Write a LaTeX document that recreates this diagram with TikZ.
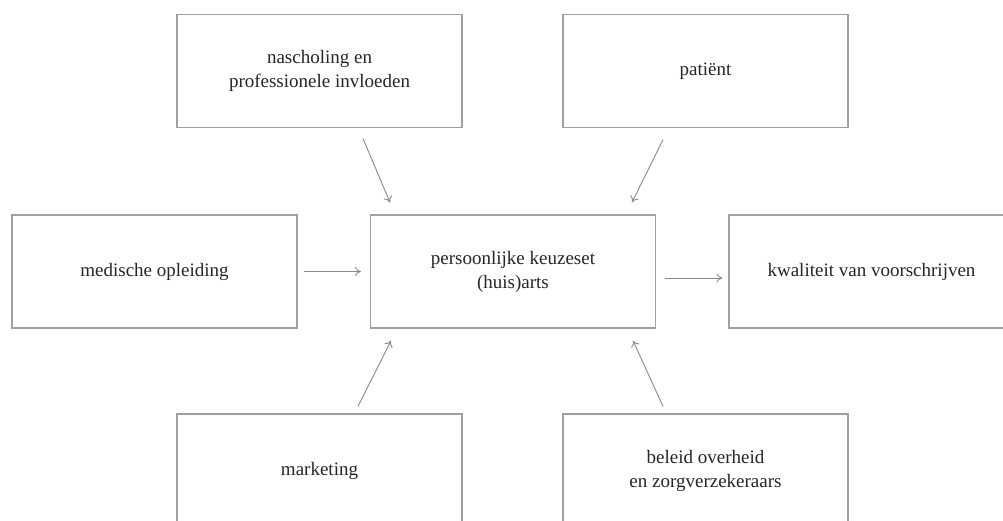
\documentclass[tikz,border=0pt]{standalone}
\usepackage{fontspec}
\setmainfont{Liberation Serif}
\usetikzlibrary{arrows.meta}
\definecolor{boxline}{HTML}{A0A0A0}
\definecolor{arrline}{HTML}{8A8A8A}
\definecolor{txt}{HTML}{262626}
\begin{document}
\begin{tikzpicture}[x=1pt,y=-1pt,
  box/.style={draw=boxline, line width=1.2pt, minimum width=285pt, minimum height=113pt,
    inner sep=0pt, align=center, text=txt, font=\fontsize{19}{24}\selectfont},
  arr/.style={draw=arrline, line width=0.9pt, -{To[length=6pt,width=9pt]}}]
\useasboundingbox (0,0) rectangle (1003,520);
\clip (0,0) rectangle (1003,520);
\fill[white] (0,0) rectangle (1003,520);
\node[box] (A) at (319.5,71) {nascholing en\\professionele invloeden};
\node[box] (B) at (705.5,71) {patiënt};
\node[box] (C) at (154.5,271.5) {medische opleiding};
\node[box] (D) at (513,271.5) {persoonlijke keuzeset\\(huis)arts};
\node[box] (E) at (871.5,271.5) {kwaliteit van voorschrijven};
\node[box] (F) at (319.5,470.5) {marketing};
\node[box] (G) at (705.5,470.5) {beleid overheid\\en zorgverzekeraars};
\draw[arr, shorten <=6pt, shorten >=9pt] (C.east) -- (D.west);
\draw[arr, shorten <=9pt, shorten >=6pt] ([yshift=-6.5pt]D.east) -- ([yshift=-6.5pt]E.west);
\draw[arr] ([xshift=43.5pt,yshift=-10.5pt]A.south) -- ([xshift=-123pt,yshift=12pt]D.north);
\draw[arr] ([xshift=-42.5pt,yshift=-11.5pt]B.south) -- ([xshift=119pt,yshift=12pt]D.north);
\draw[arr] ([xshift=38.5pt,yshift=7pt]F.north) -- ([xshift=-122pt,yshift=-12pt]D.south);
\draw[arr] ([xshift=-42.5pt,yshift=7pt]G.north) -- ([xshift=120pt,yshift=-12pt]D.south);
\end{tikzpicture}
\end{document}
